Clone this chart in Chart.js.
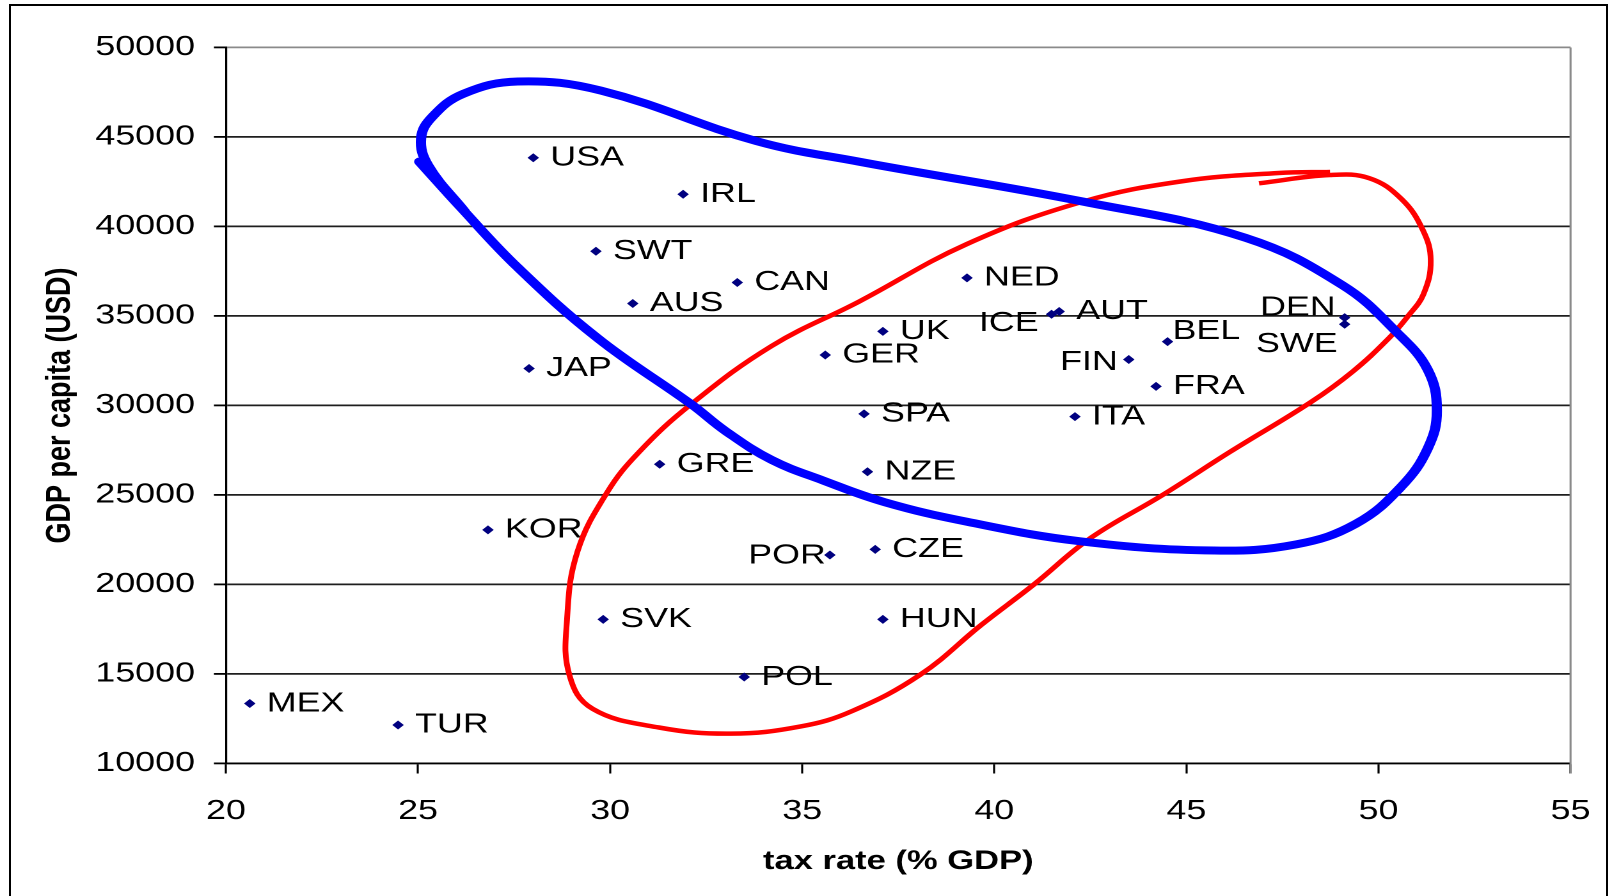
<!DOCTYPE html>
<html>
<head>
<meta charset="utf-8">
<script src="https://cdn.jsdelivr.net/npm/chart.js@4.4.1/dist/chart.umd.min.js"></script>
<style>
  html, body { margin: 0; padding: 0; background: #fff; overflow: hidden; width: 1612px; height: 896px; }
  #frame { position: absolute; left: 9px; top: 4px; width: 1599px; height: 1000px; border: 2px solid #000; box-sizing: border-box; }
  #wrap { position: absolute; left: 0; top: 0; width: 1260px; height: 896px; transform: scaleX(1.279365); transform-origin: 0 0; }
</style>
</head>
<body>
<div id="frame"></div>
<div id="wrap"><canvas id="c" width="1260" height="896"></canvas></div>
<script>
// ---- data ----
const countries = ["USA","IRL","SWT","CAN","AUS","JAP","UK","GER","NED","ICE","AUT","BEL","FIN","FRA","DEN","SWE","SPA","ITA","GRE","NZE","KOR","POR","CZE","SVK","HUN","POL","MEX","TUR"];
const taxRate = [28.0, 31.9, 29.63, 33.31, 30.59, 27.89, 37.1, 35.6, 39.29, 41.49, 41.69, 44.51, 43.5, 44.21, 49.12, 49.12, 36.61, 42.1, 31.29, 36.7, 26.82, 35.72, 36.9, 29.82, 37.1, 33.49, 20.62, 24.48];
const gdpPerCapita = [43840, 41800, 38620, 36870, 35700, 32070, 34140, 32820, 37130, 35100, 35250, 33570, 32570, 31070, 34910, 34540, 29530, 29380, 26720, 26300, 23050, 21650, 21960, 18050, 18050, 14830, 13350, 12150];

const xTicks = [20, 25, 30, 35, 40, 45, 50, 55];
const yTicks = [10000, 15000, 20000, 25000, 30000, 35000, 40000, 45000, 50000];

const xTitle = "tax rate (% GDP)";
const yTitle = "GDP per capita (USD)";

// hand-drawn blue loop (tax rate, GDP)
const blueLoopX = [25.03, 26.10, 27.60, 29.69, 32.12, 33.01, 34.21, 35.55, 37.15, 39.29, 42.24, 45.72, 47.86, 49.41, 50.59, 51.28, 51.52, 51.28, 50.48, 49.06, 46.54, 42.34, 36.48, 33.81, 29.77, 27.60, 26.18, 25.38, 25.08, 25.27, 26.23];
const blueLoopY = [43621, 41092, 37701, 33736, 30057, 28564, 26955, 25805, 24598, 23506, 22414, 21897, 22242, 23391, 25460, 27587, 29713, 32012, 34081, 36724, 39368, 41379, 43621, 44770, 47586, 48103, 47414, 46149, 44943, 43391, 40805];

// hand-drawn red loop (tax rate, GDP)
const redLoopX = [46.89, 48.74, 49.76, 50.59, 51.15, 51.36, 51.17, 50.75, 50.26, 49.33, 48.23, 46.14, 44.38, 42.50, 41.03, 39.67, 38.06, 36.30, 34.96, 33.14, 31.27, 29.55, 28.94, 28.88, 29.15, 29.93, 30.76, 32.10, 34.21, 36.48, 39.29, 42.29, 44.89, 47.40, 48.74];
const redLoopY = [42414, 42874, 42701, 41552, 39828, 38103, 36207, 34943, 33736, 31897, 30173, 27414, 25000, 22586, 20000, 17759, 14943, 12931, 12069, 11667, 12011, 13046, 14943, 18103, 21839, 25172, 27414, 30057, 33333, 35805, 39023, 41379, 42529, 42989, 43046];

// ---- label placement (style, not data) ----
const STRETCH = 1612 / 1260;
const defaultPlacement = { align: "left", dx: 17, dy: 0 };
const labelPlacement = {
  BEL: { align: "left", dx: 5, dy: -10.5 },
  DEN: { align: "right", dx: -9, dy: -10 },
  SWE: { align: "right", dx: -7, dy: 20 },
  ICE: { align: "right", dx: -13, dy: 9 },
  FIN: { align: "right", dx: -11, dy: 3 },
  POR: { align: "right", dx: -4, dy: 1 }
};

const FONT = "Liberation Sans, Arial, sans-serif";

const labelPlugin = {
  id: "pointLabels",
  beforeDatasetsDraw(chart) {
    const { ctx, scales: { x, y } } = chart;
    ctx.save();
    ctx.font = "28px " + FONT;
    ctx.fillStyle = "#000";
    ctx.textBaseline = "middle";
    countries.forEach((name, i) => {
      const px = x.getPixelForValue(taxRate[i]);
      const py = y.getPixelForValue(gdpPerCapita[i]);
      const p = labelPlacement[name] || defaultPlacement;
      ctx.textAlign = p.align;
      ctx.fillText(name, px + p.dx / STRETCH, py + p.dy);
    });
    ctx.restore();
  }
};

const borderPlugin = {
  id: "plotBorder",
  beforeDatasetsDraw(chart) {
    const { ctx, chartArea: a } = chart;
    ctx.save();
    ctx.strokeStyle = "#8a8a8a";
    ctx.lineWidth = 1.6;
    ctx.beginPath();
    ctx.moveTo(a.right, a.top);
    ctx.lineTo(a.right, a.bottom + 10);
    ctx.stroke();
    ctx.restore();
  }
};

const pointData = countries.map((c, i) => ({ x: taxRate[i], y: gdpPerCapita[i] }));
const blueData = blueLoopX.map((x, i) => ({ x: x, y: blueLoopY[i] }));
const redData = redLoopX.map((x, i) => ({ x: x, y: redLoopY[i] }));

new Chart(document.getElementById("c"), {
  type: "scatter",
  data: {
    datasets: [
      { label: "blue loop", data: blueData, showLine: true, borderColor: "#0000ff", borderWidth: 8, pointRadius: 0, tension: 0.4, fill: false, order: 0, borderCapStyle: "round", borderJoinStyle: "round" },
      { label: "red loop", data: redData, showLine: true, borderColor: "#ff0000", borderWidth: 4.5, pointRadius: 0, tension: 0.4, fill: false, order: 0, borderCapStyle: "butt", borderJoinStyle: "round" },
      { label: "OECD countries", data: pointData, pointStyle: "rectRot", pointRadius: 4.5, backgroundColor: "#000080", borderColor: "#000080", borderWidth: 0, order: 1 }
    ]
  },
  options: {
    responsive: false,
    animation: false,
    devicePixelRatio: 2,
    events: [],
    layout: { padding: { top: 47.5, right: 32.4, left: 0, bottom: 0 } },
    plugins: { legend: { display: false }, tooltip: { enabled: false } },
    scales: {
      x: {
        type: "linear", min: 20, max: 55,
        afterBuildTicks: s => { s.ticks = xTicks.map(v => ({ value: v })); },
        afterFit: s => { s.height = 896 - 763.5; },
        ticks: { font: { family: FONT, size: 28, lineHeight: 1.557 }, color: "#000", padding: 16, maxRotation: 0, callback: v => String(v) },
        grid: { drawOnChartArea: false, tickLength: 10, tickColor: "#000", tickWidth: 1.6 },
        border: { color: "#000", width: 1.8 },
        title: { display: true, text: xTitle, color: "#000", font: { family: FONT, size: 27, weight: "bold" }, padding: { top: 0, bottom: 18.5 } }
      },
      y: {
        type: "linear", min: 10000, max: 50000,
        afterBuildTicks: s => { s.ticks = yTicks.map(v => ({ value: v })); },
        afterFit: s => { s.width = 176.6; },
        ticks: { font: { family: FONT, size: 28 }, color: "#000", padding: 14.8, callback: v => String(v) },
        grid: {
          color: c => (c.tick && c.tick.value === 50000) ? "#8a8a8a" : "#1e1e1e",
          lineWidth: 1.8, tickLength: 9.4, tickColor: "#000", tickWidth: 1.8
        },
        border: { color: "#000", width: 1.6 },
        title: { display: true, text: yTitle, color: "#000", font: { family: FONT, size: 27, weight: "bold" }, padding: { top: 30.7, bottom: 0 } }
      }
    }
  },
  plugins: [labelPlugin, borderPlugin]
});
</script>
</body>
</html>
